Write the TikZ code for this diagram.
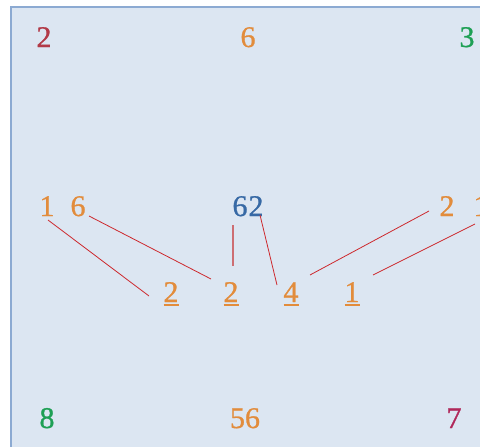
\documentclass[tikz,border=0pt]{standalone}
\usepackage{fontspec}
\setmainfont{Liberation Serif}
\newfontfamily\digitfont{Liberation Serif}[FakeBold=0.9]
\definecolor{numred}{RGB}{178,58,72}
\definecolor{numorange}{RGB}{226,140,60}
\definecolor{numgreen}{RGB}{30,160,85}
\definecolor{numblue}{RGB}{55,105,165}
\definecolor{numplum}{RGB}{176,40,90}
\definecolor{linkred}{RGB}{205,40,45}
\definecolor{linkpale}{RGB}{205,110,115}
\definecolor{boardfill}{RGB}{220,230,242}
\definecolor{boardline}{RGB}{140,170,210}
\newcommand\barred[1]{\setbox0\hbox{#1}\rlap{\rule[-4pt]{\wd0}{1.7pt}}\box0}
\begin{document}
\begin{tikzpicture}[x=1pt,y=-1pt,
  digit/.style={anchor=base,inner sep=0pt,font=\digitfont\fontsize{30}{36}\selectfont},
  link/.style={draw=linkred,line width=.8pt},
  linkpale/.style={draw=linkpale,line width=1.1pt}]
\useasboundingbox (0,0) rectangle (480,447);
\fill[boardfill,draw=boardline,line width=1.2pt] (11,7) rectangle (495,460);
% corners and middle of the edges
\node[digit,numred] (tl) at (44,47) {2};
\node[digit,numorange] (tc) at (248,47) {6};
\node[digit,numgreen] (tr) at (467,47) {3};
\node[digit,numgreen] (bl) at (47,428) {8};
\node[digit,numorange] (bc) at (245,428) {56};
\node[digit,numplum] (br) at (454,428) {7};
% middle row
\node[digit,numorange] (m1) at (47,216) {1};
\node[digit,numorange] (m6) at (78,216) {6};
\node[digit,numblue] (c6) at (240,216) {6};
\node[digit,numblue] (c2) at (256,216) {2};
\node[digit,numorange] (r2) at (447,216) {2};
\node[digit,numorange] (r1) at (481,216) {1};
% underlined row
\node[digit,numorange] (u1) at (171,302) {\barred{2}};
\node[digit,numorange] (u2) at (231,302) {\barred{2}};
\node[digit,numorange] (u3) at (291,302) {\barred{4}};
\node[digit,numorange] (u4) at (352,302) {\barred{1}};
% connectors
\draw[link] ([shift={(1,4)}]m1.base) -- ([shift={(-22,-6)}]u1.base);
\draw[link] ([shift={(11,0)}]m6.base) -- ([shift={(-20,-23)}]u2.base);
\draw[linkpale] ([shift={(-7,9)}]c6.base) -- ([shift={(2,-36)}]u2.base);
\draw[link] ([shift={(4,-1)}]c2.base) -- ([shift={(-14,-17)}]u3.base);
\draw[link] ([shift={(-18,-5)}]r2.base) -- ([shift={(19,-27)}]u3.base);
\draw[link] ([shift={(-6,8)}]r1.base) -- ([shift={(21,-27)}]u4.base);
\end{tikzpicture}
\end{document}
